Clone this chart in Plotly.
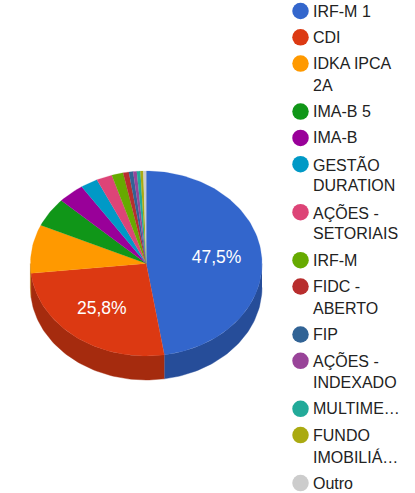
import math
import plotly.graph_objects as go

categories = ["IRF-M 1", "CDI", "IDKA IPCA 2A", "IMA-B 5", "IMA-B", "GESTÃO DURATION",
              "AÇÕES - SETORIAIS", "IRF-M", "FIDC - ABERTO", "FIP", "AÇÕES - INDEXADO",
              "MULTIMERCADO", "FUNDO IMOBILIÁRIO", "Outro"]
values = [47.5, 25.8, 8.5, 5.1, 3.7, 2.4, 2.2, 1.6, 0.8, 0.6, 0.5, 0.5, 0.4, 0.4]
legend_labels = ["IRF-M 1", "CDI", "IDKA IPCA<br>2A", "IMA-B 5", "IMA-B", "GESTÃO<br>DURATION",
                 "AÇÕES -<br>SETORIAIS", "IRF-M", "FIDC -<br>ABERTO", "FIP", "AÇÕES -<br>INDEXADO",
                 "MULTIME…", "FUNDO<br>IMOBILIÁ…", "Outro"]
colors = ["#3366cc", "#dc3912", "#ff9900", "#109618", "#990099", "#0099c6", "#dd4477",
          "#66aa00", "#b82e2e", "#316395", "#994499", "#22aa99", "#aaaa11", "#cccccc"]
side_colors = ["#264d99", "#a52b0e", "#bf7300", "#0c7112", "#730073", "#007394", "#a63359",
               "#4d8000", "#8a2222", "#254a70", "#733373", "#1a8073", "#80800d", "#999999"]

CX, CY, RX, RY, DEPTH = 146.2, 263.5, 115.8, 92.5, 24
LEGEND_DOT_X, LEGEND_TEXT_X = 300.5, 312
LINE_H, ROW_GAP, LEGEND_TOP = 21.7, 26.3, 11
LABEL_RADIUS = {"IRF-M 1": 0.61, "CDI": 0.63}


def point(deg, drop=0.0, f=1.0):
    a = math.radians(deg)
    return CX + RX * f * math.sin(a), CY - RY * f * math.cos(a) + drop


def arc(a0, a1, drop=0.0):
    n = max(2, int(abs(a1 - a0) / 1.5) + 2)
    return [point(a0 + (a1 - a0) * i / (n - 1), drop) for i in range(n)]


total = sum(values)
fig = go.Figure()
spans, acc = [], 0.0
for v in values:
    spans.append((acc / total * 360, (acc + v) / total * 360))
    acc += v

# side wall (only the front half of the ellipse is visible)
for (a0, a1), col, name in zip(spans, side_colors, categories):
    lo, hi = max(a0, 90), min(a1, 270)
    if lo >= hi:
        continue
    pts = arc(lo, hi) + arc(hi, lo, DEPTH)
    fig.add_trace(go.Scatter(x=[p[0] for p in pts], y=[p[1] for p in pts], mode="lines",
                             line=dict(width=0.4, color=col), fill="toself", fillcolor=col,
                             hoverinfo="skip", showlegend=False))

# top face
for (a0, a1), col, name, v in zip(spans, colors, categories, values):
    pts = [(CX, CY)] + arc(a0, a1) + [(CX, CY)]
    fig.add_trace(go.Scatter(x=[p[0] for p in pts], y=[p[1] for p in pts], mode="lines",
                             line=dict(width=0.2, color=col), fill="toself", fillcolor=col,
                             name=name, text=f"{name}: {v}%", hoverinfo="text", showlegend=False))

# percentage labels on the large slices
lx, ly, lt = [], [], []
for (a0, a1), name, v in zip(spans, categories, values):
    if name in LABEL_RADIUS:
        p = point((a0 + a1) / 2, f=LABEL_RADIUS[name])
        lx.append(p[0]); ly.append(p[1]); lt.append(f"{v:.1f}%".replace(".", ","))
fig.add_trace(go.Scatter(x=lx, y=ly, text=lt, mode="text", hoverinfo="skip", showlegend=False,
                         textfont=dict(family="Liberation Sans", size=17.5, color="#ffffff")))

# legend
y = LEGEND_TOP
for lab, col in zip(legend_labels, colors):
    fig.add_trace(go.Scatter(x=[LEGEND_DOT_X], y=[y], mode="markers", hoverinfo="skip", showlegend=False,
                             marker=dict(size=16.5, color=col)))
    lines = lab.split("<br>")
    for i, t in enumerate(lines):
        fig.add_annotation(x=LEGEND_TEXT_X, y=y + i * LINE_H, text=t, showarrow=False, xanchor="left",
                           yanchor="middle", xshift=-1, font=dict(family="Liberation Sans", size=16, color="#222222"))
    y += ROW_GAP + (len(lines) - 1) * LINE_H

fig.update_layout(width=415, height=493, margin=dict(l=0, r=0, t=0, b=0),
                  paper_bgcolor="white", plot_bgcolor="white", showlegend=False,
                  xaxis=dict(range=[0, 415], visible=False, fixedrange=True),
                  yaxis=dict(range=[493, 0], visible=False, fixedrange=True))
fig.write_html("out.html", config={"displayModeBar": False},
               post_script="document.body.style.margin='0';document.body.style.overflow='hidden';")
